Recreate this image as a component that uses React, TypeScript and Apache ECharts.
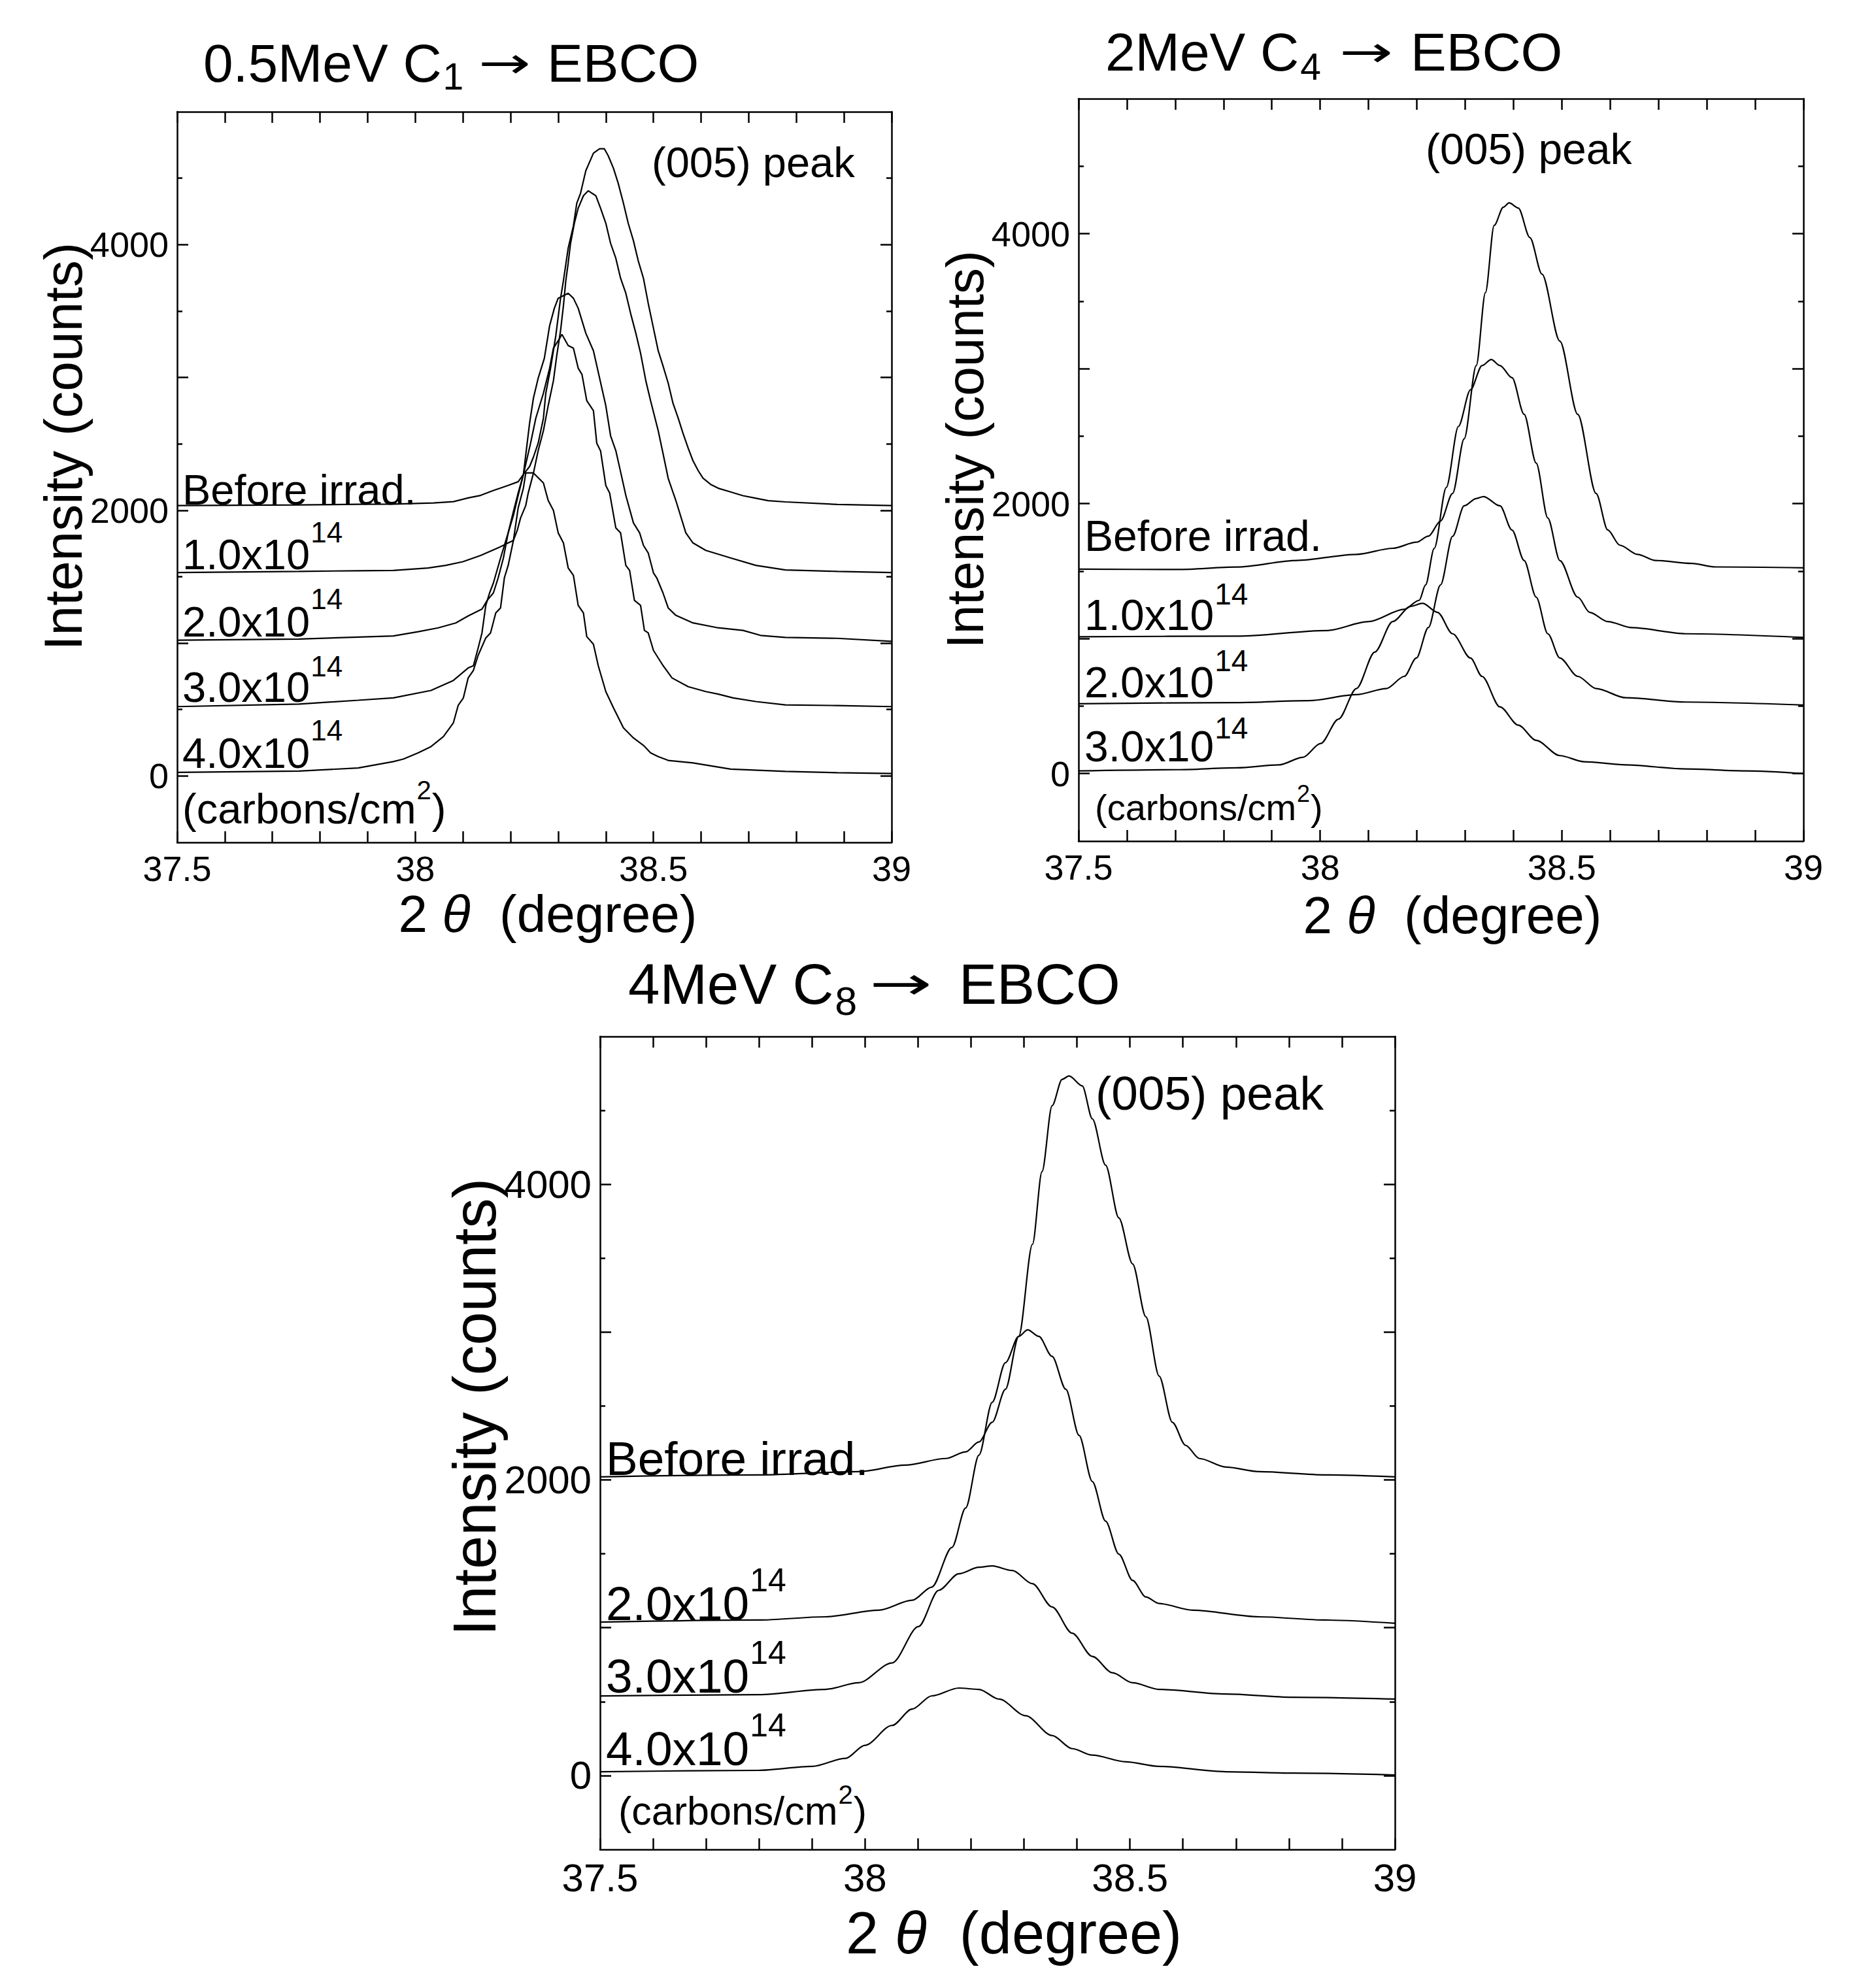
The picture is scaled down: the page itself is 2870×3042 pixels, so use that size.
import React, { useEffect, useRef } from 'react';
import * as echarts from 'echarts';

// ---------- axes ----------
const X_MIN = 37.5;
const X_MAX = 39;
const Y_MIN = -500;
const Y_MAX = 5000;
const Y_LABEL_VALUES = [0, 2000, 4000];
const Y_MAJOR_TICKS = [0, 1000, 2000, 3000, 4000];
const Y_MINOR_TICKS = [500, 1500, 2500, 3500, 4500];

// ---------- panel 1 : 0.5MeV C1 -> EBCO ----------
const P1_NAMES = ['Before irrad.', '1.0x10^14', '2.0x10^14', '3.0x10^14', '4.0x10^14'];
const P1_BEFORE = [[37.5,2035],[37.756,2040],[37.88,2045],[37.954,2046],[38.038,2055],[38.08,2065],[38.111,2093],[38.137,2112],[38.164,2149],[38.195,2187],[38.216,2215],[38.227,2270],[38.24,2330],[38.248,2400],[38.258,2505],[38.269,2693],[38.274,2881],[38.284,3069],[38.295,3314],[38.305,3596],[38.311,3728],[38.321,3973],[38.332,4142],[38.339,4311],[38.347,4387],[38.358,4556],[38.374,4688],[38.387,4721],[38.397,4721],[38.405,4669],[38.416,4575],[38.426,4462],[38.437,4311],[38.447,4161],[38.458,4029],[38.468,3879],[38.479,3747],[38.489,3559],[38.5,3371],[38.51,3201],[38.52,3088],[38.531,2957],[38.541,2806],[38.552,2693],[38.562,2580],[38.573,2467],[38.583,2373],[38.594,2298],[38.604,2242],[38.62,2195],[38.636,2166],[38.662,2138],[38.688,2110],[38.715,2091],[38.741,2072],[38.777,2063],[38.886,2044],[39.0,2035]];
const P1_D1 = [[37.5,1531],[37.756,1540],[37.88,1545],[37.954,1547],[38.027,1566],[38.064,1585],[38.1,1613],[38.137,1660],[38.174,1717],[38.195,1754],[38.206,1773],[38.214,1848],[38.221,1942],[38.232,2037],[38.237,2129],[38.248,2279],[38.258,2449],[38.269,2599],[38.279,2787],[38.29,2975],[38.297,3164],[38.305,3352],[38.311,3540],[38.316,3728],[38.321,3860],[38.326,4010],[38.334,4161],[38.342,4274],[38.353,4368],[38.363,4405],[38.379,4368],[38.389,4274],[38.4,4161],[38.41,4010],[38.421,3897],[38.431,3747],[38.442,3634],[38.452,3483],[38.463,3333],[38.473,3182],[38.484,2975],[38.494,2824],[38.51,2599],[38.52,2430],[38.531,2240],[38.547,2074],[38.568,1830],[38.583,1754],[38.61,1698],[38.662,1641],[38.715,1585],[38.777,1551],[38.886,1540],[39.0,1531]];
const P1_D2 = [[37.5,1022],[37.756,1031],[37.88,1045],[37.954,1054],[38.006,1086],[38.048,1115],[38.085,1152],[38.111,1205],[38.14,1256],[38.151,1322],[38.164,1378],[38.174,1491],[38.185,1641],[38.195,1830],[38.206,1961],[38.216,2112],[38.227,2270],[38.24,2656],[38.248,2844],[38.258,2994],[38.271,3145],[38.282,3389],[38.292,3521],[38.3,3596],[38.321,3634],[38.332,3596],[38.342,3521],[38.358,3333],[38.374,3201],[38.387,2994],[38.4,2787],[38.41,2561],[38.421,2449],[38.431,2290],[38.442,2112],[38.458,1905],[38.471,1830],[38.479,1736],[38.489,1679],[38.5,1529],[38.507,1491],[38.52,1378],[38.531,1265],[38.547,1209],[38.583,1152],[38.636,1115],[38.688,1096],[38.725,1058],[38.777,1043],[38.886,1036],[39.0,1013]];
const P1_D3 = [[37.5,522],[37.756,541],[37.88,570],[37.954,588],[38.033,644],[38.08,719],[38.111,813],[38.122,829],[38.132,964],[38.14,1077],[38.148,1284],[38.156,1378],[38.164,1453],[38.179,1640],[38.195,1830],[38.206,1990],[38.216,2130],[38.227,2270],[38.242,2505],[38.253,2693],[38.269,2881],[38.282,3069],[38.29,3220],[38.3,3276],[38.308,3324],[38.321,3240],[38.332,3220],[38.342,3070],[38.35,3022],[38.36,2825],[38.374,2750],[38.381,2505],[38.389,2447],[38.4,2186],[38.408,2131],[38.421,1867],[38.431,1830],[38.442,1585],[38.45,1547],[38.46,1322],[38.473,1284],[38.481,1096],[38.489,1077],[38.5,945],[38.52,832],[38.539,738],[38.573,672],[38.61,635],[38.636,616],[38.667,588],[38.715,560],[38.777,535],[38.886,530],[39.0,522]];
const P1_D4 = [[37.5,27],[37.756,37],[37.88,60],[37.954,108],[37.975,127],[38.006,174],[38.033,221],[38.059,296],[38.08,400],[38.09,531],[38.101,588],[38.111,738],[38.122,795],[38.132,908],[38.148,1039],[38.158,1077],[38.169,1228],[38.179,1265],[38.187,1491],[38.195,1585],[38.206,1773],[38.216,2018],[38.227,2168],[38.232,2281],[38.248,2281],[38.269,2206],[38.279,2074],[38.29,1999],[38.3,1830],[38.311,1754],[38.321,1566],[38.332,1510],[38.342,1284],[38.353,1227],[38.36,1049],[38.374,992],[38.384,832],[38.4,635],[38.416,513],[38.437,362],[38.458,286],[38.479,230],[38.494,174],[38.51,146],[38.531,117],[38.583,98],[38.662,52],[38.777,34],[38.886,25],[39.0,18]];

// ---------- panel 2 : 2MeV C4 -> EBCO ----------
const P2_NAMES = ['Before irrad.', '1.0x10^14', '2.0x10^14', '3.0x10^14'];
const P2_BEFORE = [[37.5,1515],[37.704,1512],[37.828,1530],[37.952,1579],[38.075,1624],[38.15,1669],[38.199,1714],[38.224,1759],[38.249,1871],[38.274,2075],[38.298,2481],[38.323,3023],[38.342,3564],[38.36,4061],[38.379,4196],[38.391,4228],[38.41,4190],[38.434,3971],[38.459,3700],[38.496,3203],[38.533,2661],[38.571,2075],[38.595,1805],[38.62,1692],[38.657,1624],[38.694,1579],[38.769,1557],[38.818,1531],[39.0,1524]];
const P2_D1 = [[37.5,1014],[37.828,1018],[38.014,1060],[38.1,1126],[38.174,1217],[38.205,1284],[38.218,1397],[38.236,1668],[38.261,2120],[38.286,2572],[38.311,2843],[38.335,3023],[38.354,3068],[38.372,3023],[38.397,2933],[38.422,2662],[38.447,2300],[38.471,1894],[38.496,1578],[38.533,1307],[38.558,1194],[38.595,1126],[38.645,1081],[38.756,1036],[39.0,1009]];
const P2_D2 = [[37.5,517],[37.828,526],[37.976,540],[38.075,585],[38.137,630],[38.174,720],[38.199,856],[38.224,1083],[38.249,1397],[38.274,1758],[38.298,1984],[38.323,2038],[38.338,2052],[38.372,1984],[38.397,1804],[38.422,1579],[38.447,1307],[38.471,1036],[38.496,856],[38.533,720],[38.571,630],[38.632,562],[38.756,530],[39.0,508]];
const P2_D3 = [[37.5,20],[37.704,29],[37.828,43],[37.915,65],[37.964,120],[38.001,223],[38.038,404],[38.075,630],[38.113,900],[38.15,1126],[38.187,1239],[38.212,1262],[38.243,1194],[38.274,1036],[38.311,856],[38.335,720],[38.372,494],[38.41,359],[38.447,246],[38.496,133],[38.546,88],[38.632,65],[38.756,34],[38.88,20],[39.0,0]];

// ---------- panel 3 : 4MeV C8 -> EBCO ----------
const P3_NAMES = ['Before irrad.', '2.0x10^14', '3.0x10^14', '4.0x10^14'];
const P3_BEFORE = [[37.5,2021],[37.799,2034],[37.988,2056],[38.076,2100],[38.152,2145],[38.19,2190],[38.215,2257],[38.24,2390],[38.265,2613],[38.29,2970],[38.316,3594],[38.334,4085],[38.353,4531],[38.372,4710],[38.385,4733],[38.41,4666],[38.429,4443],[38.454,4130],[38.479,3773],[38.505,3461],[38.53,3104],[38.555,2703],[38.58,2390],[38.605,2234],[38.631,2145],[38.681,2087],[38.744,2056],[38.87,2034],[39.0,2021]];
const P3_D2 = [[37.5,1038],[37.799,1052],[37.925,1074],[38.026,1119],[38.089,1186],[38.126,1275],[38.164,1543],[38.19,1811],[38.215,2168],[38.24,2525],[38.265,2793],[38.29,2971],[38.307,3015],[38.328,2971],[38.353,2836],[38.379,2613],[38.404,2301],[38.429,1989],[38.454,1721],[38.479,1498],[38.505,1320],[38.53,1208],[38.555,1164],[38.618,1119],[38.744,1074],[38.87,1052],[39.0,1030]];
const P3_D3 = [[37.5,538],[37.799,547],[37.925,583],[37.988,628],[38.051,762],[38.101,1008],[38.139,1253],[38.177,1365],[38.215,1409],[38.24,1418],[38.278,1387],[38.316,1298],[38.353,1141],[38.391,963],[38.429,806],[38.467,695],[38.505,628],[38.555,583],[38.681,552],[38.807,530],[39.0,517]];
const P3_D4 = [[37.5,26],[37.799,35],[37.9,62],[37.963,116],[38.0,205],[38.051,339],[38.089,450],[38.126,539],[38.177,592],[38.215,583],[38.253,517],[38.303,405],[38.353,271],[38.391,182],[38.429,138],[38.492,93],[38.555,62],[38.681,26],[38.807,17],[39.0,4]];

const PANEL_SERIES = [
  { names: P1_NAMES, data: [P1_BEFORE, P1_D1, P1_D2, P1_D3, P1_D4], smooth: false },
  { names: P2_NAMES, data: [P2_BEFORE, P2_D1, P2_D2, P2_D3], smooth: 0.3 },
  { names: P3_NAMES, data: [P3_BEFORE, P3_D2, P3_D3, P3_D4], smooth: 0.3 },
];

// ---------- layout ----------
const FONT = 'Liberation Sans';
const ARROW_FONT = 'DejaVu Sans';
const BLACK = '#000';
const GRIDS = [
  { left: 271, top: 171, width: 1093, height: 1118 },
  { left: 1650, top: 151, width: 1109, height: 1136 },
  { left: 918, top: 1586, width: 1216, height: 1244 },
];
const TICK_FONT = [54, 54, 60];

let measureCtx: CanvasRenderingContext2D | null = null;
function tw(text: string, size: number, family = FONT): number {
  if (!measureCtx) measureCtx = document.createElement('canvas').getContext('2d');
  if (!measureCtx) return text.length * size * 0.55;
  measureCtx.font = `${size}px "${family}", sans-serif`;
  return measureCtx.measureText(text).width;
}

function txt(text: string, x: number, y: number, size: number, opts: any = {}) {
  return {
    type: 'text',
    x,
    y,
    rotation: opts.rotation || 0,
    scaleX: opts.scaleX || 1,
    silent: true,
    style: {
      text,
      fill: BLACK,
      fontSize: size,
      fontFamily: opts.family || FONT,
      fontStyle: opts.italic ? 'italic' : 'normal',
      align: opts.align || 'left',
      verticalAlign: 'middle',
      rich: opts.rich,
    },
  };
}

function dose(main: string, x: number, y: number, fs: number, supY: number, supFs: number) {
  const w = tw(main, fs);
  return [txt(main, x, y, fs), txt('14', x + w + 1, supY, supFs)];
}

function carbons(x: number, y: number, fs: number, supY: number, supFs: number) {
  const a = '(carbons/cm';
  const w1 = tw(a, fs);
  const w2 = tw('2', supFs);
  return [txt(a, x, y, fs), txt('2', x + w1 + 1, supY, supFs), txt(')', x + w1 + w2 + 2, y, fs)];
}

// title: main text "xxx C", subscript right after it, long arrow, then "EBCO"
function title(main: string, sub: string, x: number, y: number, fs: number, subDy: number, arrowX: number, arrowW: number, ebcoX: number) {
  const w = tw(main, fs);
  const subFs = Math.round(fs * 0.7);
  const arrowFs = Math.round(fs * 0.8);
  const aw = tw('→', arrowFs, ARROW_FONT);
  return [
    txt(main, x, y, fs),
    txt(sub, x + w + 2, y + subDy, subFs),
    txt('→', arrowX, y, arrowFs, { family: ARROW_FONT, scaleX: aw > 0 ? arrowW / aw : 1 }),
    txt('EBCO', ebcoX, y, fs),
  ];
}

function xName(cx: number, y: number, fs: number) {
  return txt('{n|2 }{i|θ}{n|  (degree)}', cx, y, fs, {
    align: 'center',
    rich: {
      n: { fontSize: fs, fontFamily: FONT, fill: BLACK },
      i: { fontSize: fs, fontFamily: FONT, fontStyle: 'italic', fill: BLACK },
    },
  });
}

function yName(cx: number, cy: number, fs: number) {
  return txt('Intensity (counts)', cx, cy, fs, { align: 'center', rotation: Math.PI / 2 });
}

function buildGraphics() {
  const g: any[] = [];
  // Panel 1
  g.push(...title('0.5MeV C', '1', 311, 96, 82, 21, 732, 80, 837));
  g.push(txt('(005) peak', 997, 248, 65));
  g.push(txt('Before irrad.', 279, 749, 65));
  g.push(...dose('1.0x10', 279, 848, 65, 814, 44));
  g.push(...dose('2.0x10', 279, 951, 65, 916, 44));
  g.push(...dose('3.0x10', 279, 1051, 65, 1019, 44));
  g.push(...dose('4.0x10', 279, 1152, 65, 1117, 44));
  g.push(...carbons(279, 1237, 65, 1209, 40));
  g.push(yName(96, 683, 82));
  g.push(xName(838, 1398, 80));

  // Panel 2
  g.push(...title('2MeV C', '4', 1691, 79, 82, 23, 2049, 82, 2158));
  g.push(txt('(005) peak', 2181, 228, 66));
  g.push(txt('Before irrad.', 1659, 820, 66));
  g.push(...dose('1.0x10', 1659, 941, 66, 909, 46));
  g.push(...dose('2.0x10', 1659, 1044, 66, 1011, 46));
  g.push(...dose('3.0x10', 1659, 1142, 66, 1114, 46));
  g.push(...carbons(1675, 1235, 56, 1214, 36));
  g.push(yName(1476, 688, 80));
  g.push(xName(2222, 1400, 80));

  // Panel 3
  g.push(...title('4MeV C', '8', 961, 1505, 87, 27, 1330, 96, 1467));
  g.push(txt('(005) peak', 1676, 1672, 73));
  g.push(txt('Before irrad.', 927, 2231, 73));
  g.push(...dose('2.0x10', 927, 2453, 73, 2418, 50));
  g.push(...dose('3.0x10', 927, 2564, 73, 2529, 50));
  g.push(...dose('4.0x10', 927, 2675, 73, 2640, 50));
  g.push(...carbons(946, 2771, 61, 2746, 40));
  g.push(yName(726, 2153, 92));
  g.push(xName(1551, 2958, 90));
  return g;
}

const axisLineStyle = { color: BLACK, width: 2.5 };

function xAxesFor(i: number) {
  const base: any = {
    gridIndex: i,
    type: 'value',
    min: X_MIN,
    max: X_MAX,
    interval: 0.5,
    splitLine: { show: false },
    minorSplitLine: { show: false },
    axisLine: { show: true, onZero: false, lineStyle: axisLineStyle },
    axisTick: { show: true, inside: true, length: 17, lineStyle: axisLineStyle },
    minorTick: { show: true, splitNumber: 5, length: 17, lineStyle: axisLineStyle },
  };
  return [
    {
      ...base,
      position: 'bottom',
      axisLabel: { show: true, fontSize: TICK_FONT[i], color: BLACK, fontFamily: FONT, margin: 13 },
    },
    { ...base, position: 'top', axisLabel: { show: false } },
  ];
}

function yAxesFor(i: number) {
  const base: any = {
    gridIndex: i,
    type: 'value',
    min: Y_MIN,
    max: Y_MAX,
    interval: 500,
    splitLine: { show: false },
  };
  const major = { show: true, inside: true, length: 17, lineStyle: axisLineStyle, customValues: Y_MAJOR_TICKS };
  const minor = { show: true, inside: true, length: 8, lineStyle: axisLineStyle, customValues: Y_MINOR_TICKS };
  return [
    {
      ...base,
      position: 'left',
      axisLine: { show: true, onZero: false, lineStyle: axisLineStyle },
      axisTick: major,
      axisLabel: {
        show: true,
        customValues: Y_LABEL_VALUES,
        fontSize: TICK_FONT[i],
        color: BLACK,
        fontFamily: FONT,
        margin: 13,
        formatter: (v: number) => (Y_LABEL_VALUES.indexOf(v) >= 0 ? String(v) : ''),
      },
    },
    { ...base, position: 'left', axisLine: { show: false, onZero: false }, axisTick: minor, axisLabel: { show: false } },
    { ...base, position: 'right', axisLine: { show: true, onZero: false, lineStyle: axisLineStyle }, axisTick: major, axisLabel: { show: false } },
    { ...base, position: 'right', axisLine: { show: false, onZero: false }, axisTick: minor, axisLabel: { show: false } },
  ];
}

function buildOption() {
  const xAxis: any[] = [];
  const yAxis: any[] = [];
  const series: any[] = [];
  PANEL_SERIES.forEach((p, i) => {
    xAxis.push(...xAxesFor(i));
    yAxis.push(...yAxesFor(i));
    p.data.forEach((d, k) => {
      series.push({
        type: 'line',
        name: `P${i + 1} ${p.names[k]}`,
        xAxisIndex: i * 2,
        yAxisIndex: i * 4,
        data: d,
        showSymbol: false,
        symbol: 'none',
        smooth: p.smooth,
        smoothMonotone: 'x',
        clip: true,
        silent: true,
        lineStyle: { color: BLACK, width: 2.2 },
        emphasis: { disabled: true },
      });
    });
  });
  return {
    animation: false,
    backgroundColor: '#ffffff',
    grid: GRIDS.map((g) => ({ ...g, containLabel: false, outerBoundsMode: 'none', show: false })),
    xAxis,
    yAxis,
    series,
    graphic: buildGraphics(),
  };
}

export default function App() {
  const ref = useRef<HTMLDivElement>(null);
  useEffect(() => {
    if (!ref.current) return;
    const chart = echarts.init(ref.current, undefined, { renderer: 'svg' });
    chart.setOption(buildOption() as any);
    return () => chart.dispose();
  }, []);
  return (
    <div
      ref={ref}
      style={{ position: 'absolute', left: 0, top: 0, width: 2870, height: 3042, background: '#fff' }}
    />
  );
}
